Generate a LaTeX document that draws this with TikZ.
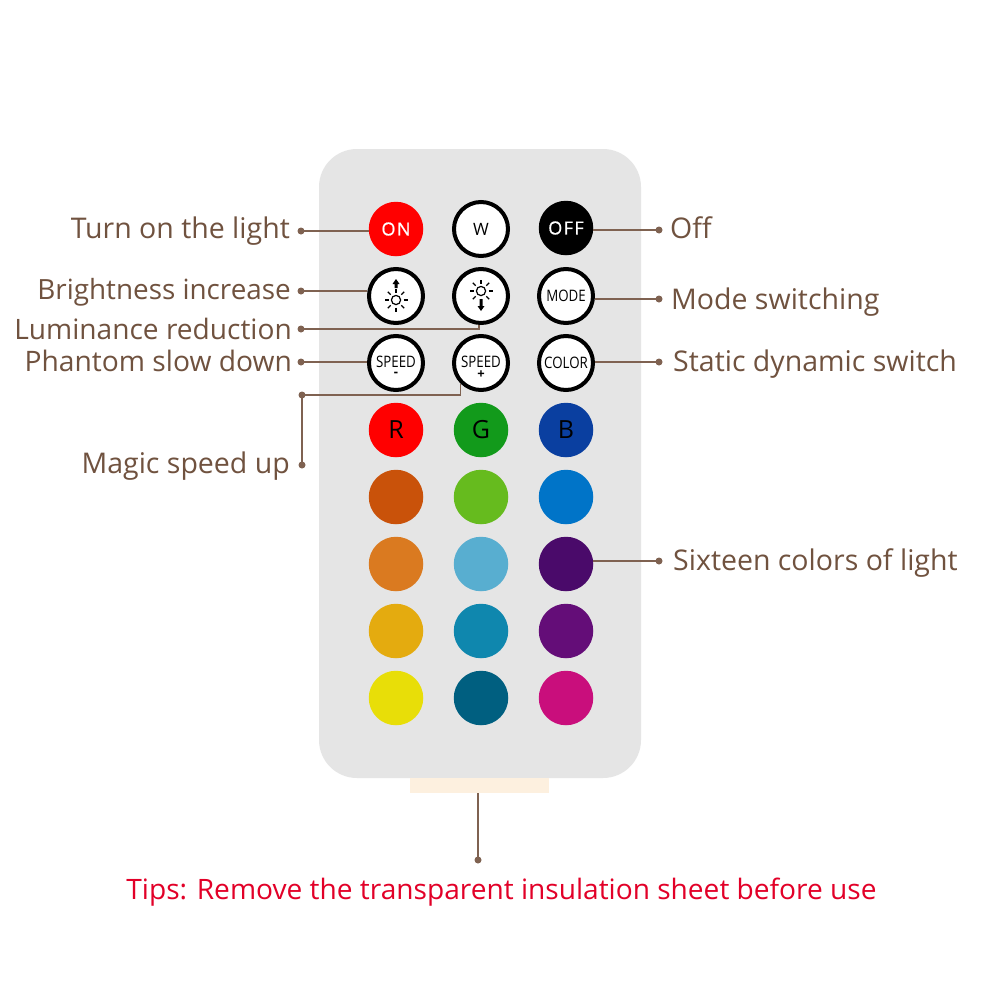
\documentclass[tikz,border=0pt]{standalone}
\usepackage{fontspec}
\setmainfont{Open Sans}
\newfontfamily\btnfont[FakeStretch=0.84]{Open Sans}
\newfontfamily\capfont[LetterSpace=8,FakeBold=0.7]{Open Sans}
\definecolor{lbl}{HTML}{70523F}
\definecolor{lnk}{HTML}{7F6251}
\definecolor{pad}{HTML}{E5E5E5}
\begin{document}
\begin{tikzpicture}[x=1pt,y=-1pt,
  lab/.style={text=lbl,font=\fontsize{28.5}{30}\selectfont,inner sep=0pt},
  dotn/.style={circle,fill=lnk,minimum size=7pt,inner sep=0pt},
  conn/.style={draw=lnk,line width=1.1pt},
  btn/.style={circle,minimum size=54.5pt,inner sep=0pt},
  wbtn/.style={circle,draw=black,line width=4pt,fill=white,minimum size=54pt,inner sep=0pt,font=\btnfont\fontsize{15.8}{16}\selectfont},
  sgn/.style={inner sep=0pt,font=\fontsize{13}{13}\selectfont\bfseries},
  captxt/.style={font=\capfont\fontsize{18}{18}\selectfont,text=white},
  rgbt/.style={font=\fontsize{25}{26}\selectfont,text=black}]
\useasboundingbox (0,0) rectangle (1001,1001);
\fill[white] (0,0) rectangle (1001,1001);
\fill[fill=pad,rounded corners=38pt] (319,149) rectangle (641,778);
\node[fill={rgb,255:red,253;green,240;blue,223},minimum width=139pt,minimum height=15pt,inner sep=0pt] (tab) at (479.5,785.5) {};

% buttons
\node[btn,fill=red,captxt] (on) at (396,229) {ON};
\node[wbtn,font=\fontsize{17}{17}\selectfont] (w) at (481,229) {W};
\node[btn,fill=black,captxt] (off) at (566,228) {OFF};
\node[wbtn] (up) at (396,296) {};
\node[wbtn] (down) at (481,296) {};
\node[wbtn] (mode) at (566,296) {MODE};
\node[wbtn] (slow) at (396,363) {};
\node[wbtn] (fast) at (481,363) {};
\node[wbtn] (color) at (566,363) {COLOR};
\node[inner sep=0pt,font=\btnfont\fontsize{15.8}{16}\selectfont] (slowt) at (396,361.5) {SPEED};
\node[inner sep=0pt,font=\btnfont\fontsize{15.8}{16}\selectfont] (fastt) at (481,361.5) {SPEED};
\node[sgn] (minus) at (396,374) {-};
\node[sgn] (plus) at (481,374.5) {+};

% sun icons
\foreach \cx/\cy in {396/300,481/291}{
  \draw[line width=1.2pt] (\cx,\cy) circle (4.6pt);
  \foreach \a in {0,45,...,315}
    \draw[line width=1.2pt] ({\cx+7.5*cos(\a)},{\cy+7.5*sin(\a)}) -- ({\cx+11.5*cos(\a)},{\cy+11.5*sin(\a)});
}
\fill (396,279) -- (399.5,284) -- (397.5,284) -- (397.5,288) -- (394.5,288) -- (394.5,284) -- (392.5,284) -- cycle;
\fill (481,311) -- (484.5,306) -- (482.5,306) -- (482.5,299) -- (479.5,299) -- (479.5,306) -- (477.5,306) -- cycle;

% colour buttons
\node[btn,fill={rgb,255:red,255;green,0;blue,0},rgbt] (r) at (396,430) {R};
\node[btn,fill={rgb,255:red,18;green,154;blue,27},rgbt] (g) at (481,430) {G};
\node[btn,fill={rgb,255:red,10;green,63;blue,160},rgbt] (b) at (566,430) {B};
\foreach \n/\x/\y/\r/\gg/\bb in {
  c1/396/497/201/82/10, c2/481/497/102/187/30, c3/566/497/0/116/200,
  c4/396/564/218/122/32, c5/481/564/88/174/208, c6/566/564/74/10/106,
  c7/396/631/228/171/15, c8/481/631/15/135/174, c9/566/631/100/13/120,
  c10/396/698/232/222/8, c11/481/698/0/95/128, c12/566/698/201/14/124}
  \node[btn,fill={rgb,255:red,\r;green,\gg;blue,\bb}] (\n) at (\x,\y) {};

% labels
\node[lab,anchor=base east] (l1) at (290,238) {Turn on the light};
\node[lab,anchor=base east,font=\fontsize{27.85}{30}\selectfont] (l2) at (291,299) {Brightness increase};
\node[lab,anchor=base east,font=\fontsize{28.1}{30}\selectfont] (l3) at (292,339) {Luminance reduction};
\node[lab,anchor=base east,font=\fontsize{28.2}{30}\selectfont] (l4) at (292,371) {Phantom slow down};
\node[lab,anchor=base east] (l5) at (290,473) {Magic speed up};
\node[lab,anchor=base west] (r1) at (670,238) {Off};
\node[lab,anchor=base west] (r2) at (671,309) {Mode switching};
\node[lab,anchor=base west] (r3) at (673,371) {Static dynamic switch};
\node[lab,anchor=base west] (r4) at (673,570) {Sixteen colors of light};
\node[lab,text={rgb,255:red,226;green,0;blue,40},anchor=base,font=\fontsize{28.1}{30}\selectfont] (tips) at (501.5,899) {Tips: Remove the transparent insulation sheet before use};

% dots
\node[dotn] (d1) at (301,231) {};
\node[dotn] (d2) at (301,291) {};
\node[dotn] (d3) at (301,329) {};
\node[dotn] (d4) at (301,362) {};
\node[dotn] (d5) at (302,395) {};
\node[dotn] (d6) at (302,465) {};
\node[dotn] (e1) at (659,230) {};
\node[dotn] (e2) at (659,299) {};
\node[dotn] (e3) at (659,362) {};
\node[dotn] (e4) at (659,561) {};
\node[dotn] (e5) at (478,860) {};

% connectors
\draw[conn] (d1.center) -- (on.west |- d1);
\draw[conn] (d2.center) -- (up.west |- d2);
\draw[conn] (d3.center) -| ([xshift=-2pt]down.south);
\draw[conn] (d4.center) -- (slow.west |- d4);
\draw[conn] (d5.center) -| (fast.225);
\draw[conn] (d5.center) -- (d6.center);
\draw[conn] (e1.center) -- (off.east |- e1);
\draw[conn] (e2.center) -- (mode.east |- e2);
\draw[conn] (e3.center) -- (color.east |- e3);
\draw[conn] (e4.center) -- (c6.east |- e4);
\draw[conn] (e5.center) -- (e5.center |- tab.south);
\end{tikzpicture}
\end{document}
